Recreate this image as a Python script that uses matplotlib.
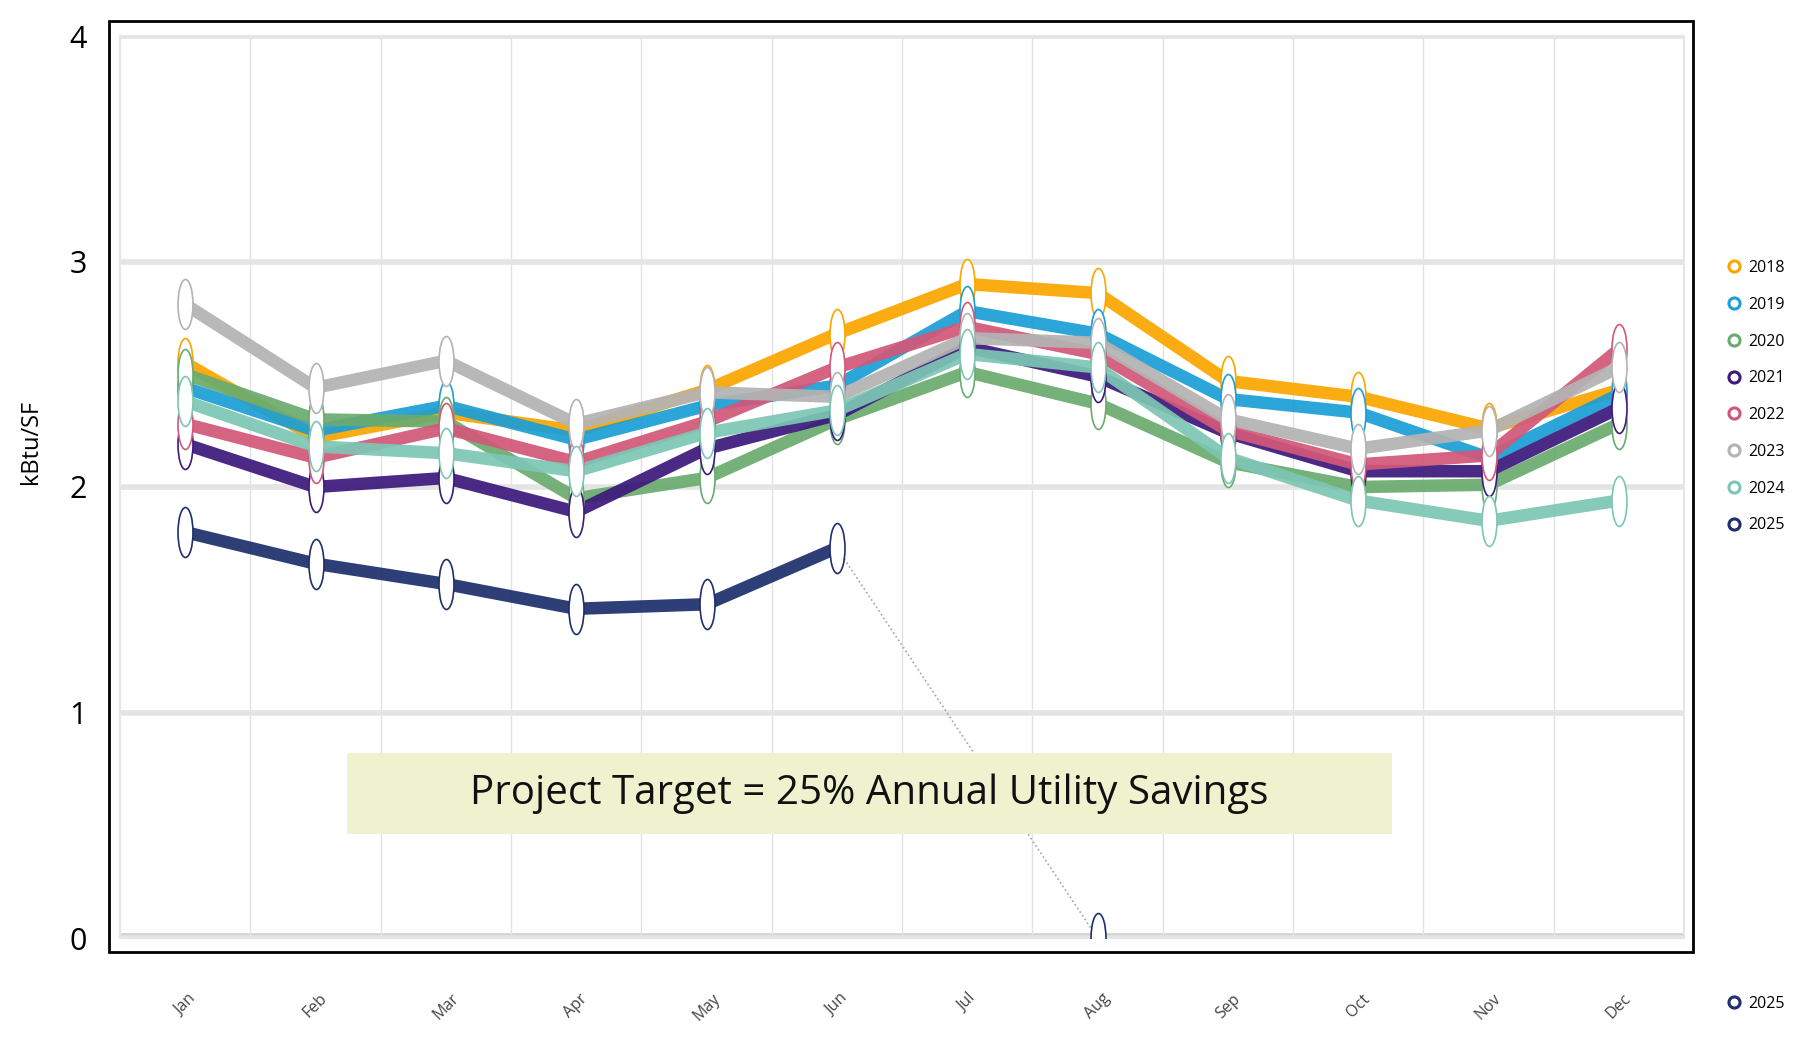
import numpy as np
import matplotlib
matplotlib.use("Agg")
import matplotlib.pyplot as plt
from matplotlib.path import Path
from matplotlib.transforms import Affine2D
from matplotlib.lines import Line2D
from matplotlib.patches import Rectangle

plt.rcParams['font.family'] = ['Open Sans', 'DejaVu Sans']

months = ['Jan', 'Feb', 'Mar', 'Apr', 'May', 'Jun', 'Jul', 'Aug', 'Sep', 'Oct', 'Nov', 'Dec']
years = ['2018', '2019', '2020', '2021', '2022', '2023', '2024', '2025']
colors = ['#FBA600', '#1C9ED6', '#6AAB6F', '#3D1A7C', '#D2587A', '#B3B3B3', '#7DC6B4', '#1E2F6C']

y2018 = [2.55, 2.22, 2.33, 2.25, 2.43, 2.68, 2.90, 2.86, 2.47, 2.40, 2.26, 2.43]
y2019 = [2.44, 2.25, 2.36, 2.21, 2.36, 2.45, 2.78, 2.68, 2.39, 2.33, 2.13, 2.41]
y2020 = [2.50, 2.30, 2.29, 1.95, 2.04, 2.30, 2.51, 2.37, 2.11, 2.00, 2.01, 2.28]
y2021 = [2.19, 2.00, 2.04, 1.89, 2.17, 2.32, 2.62, 2.49, 2.24, 2.07, 2.07, 2.35]
y2022 = [2.28, 2.13, 2.26, 2.11, 2.29, 2.53, 2.71, 2.59, 2.25, 2.10, 2.14, 2.61]
y2023 = [2.81, 2.44, 2.56, 2.28, 2.42, 2.40, 2.66, 2.64, 2.30, 2.17, 2.25, 2.53]
y2024 = [2.38, 2.18, 2.15, 2.07, 2.24, 2.34, 2.59, 2.53, 2.13, 1.94, 1.85, 1.94]
y2025 = [1.80, 1.66, 1.57, 1.46, 1.48, 1.73, np.nan, 0.0, np.nan, np.nan, np.nan, np.nan]
series = [y2018, y2019, y2020, y2021, y2022, y2023, y2024, y2025]

target_text = 'Project Target = 25% Annual Utility Savings'

# tall thin ellipse marker
circ = Path.unit_circle()
ell = Path(Affine2D().scale(0.3, 1.0).transform(circ.vertices), circ.codes)

W, H = 1794, 1037
fig = plt.figure(figsize=(W / 100, H / 100), dpi=100)
ax = fig.add_axes([120 / W, 1 - 938 / H, 1564 / W, 902 / H])

x = np.arange(len(months))
for yr, col, vals in zip(years, colors, series):
    v = np.array(vals, dtype=float)
    ax.plot(x, v, color=col, lw=9, solid_capstyle='butt', alpha=0.93, zorder=3)
    ax.plot(x, v, ls='none', marker=ell, markersize=36, markerfacecolor='white',
            markeredgecolor=col, markeredgewidth=1.2, zorder=4)

# 2025 gap segment (Jun -> Aug) drawn thin and faint
v25 = np.array(y2025, dtype=float)
ok = ~np.isnan(v25)
ax.plot(x[ok][-2:], v25[ok][-2:], color='#9aa3c0', lw=1.2, ls=':', zorder=2)

ax.set_xlim(-0.5, 11.5)
ax.set_ylim(0, 4)
ax.set_yticks([0, 1, 2, 3, 4])
ax.set_yticklabels(['0', '1', '2', '3', '4'], fontsize=22)
ax.set_xticks(x)
ax.set_xticklabels(months, rotation=45, fontsize=11.5, color='#444444')
ax.set_xticks(np.arange(0.5, 11, 1), minor=True)
ax.tick_params(axis='both', which='both', length=0)
ax.tick_params(axis='y', pad=24)
ax.tick_params(axis='x', pad=38)
ax.grid(True, which='minor', axis='x', color='#e2e2e2', lw=1)
ax.grid(True, which='major', axis='y', color='#e4e4e4', lw=4)
ax.axhline(0, color='#d2d2d2', lw=7, zorder=1)
for s in ax.spines.values():
    s.set_color('#e6e6e6')
    s.set_linewidth(1.5)
ax.set_ylabel('kBtu/SF', fontsize=17)
ax.yaxis.set_label_coords(-0.049, 0.55)

# target box
ax.add_patch(Rectangle((0.145, 0.115), 0.668, 0.09, transform=ax.transAxes,
                       facecolor='#EEF2CF', edgecolor='none', zorder=5))
ax.text(0.479, 0.16, target_text, transform=ax.transAxes, ha='center', va='center',
        fontsize=29, color='#111111', zorder=6)

# outer black frame
fig.add_artist(Rectangle((109 / W, 1 - 952 / H), 1584 / W, 931 / H, transform=fig.transFigure,
                         fill=False, edgecolor='black', lw=2))

handles = [Line2D([], [], ls='none', marker='o', markersize=8, markerfacecolor='white',
                  markeredgecolor=c, markeredgewidth=2.2) for c in colors]
fig.legend(handles, years, loc='upper left', bbox_to_anchor=(1718 / W, 1 - 252 / H),
           frameon=False, fontsize=11.5, labelspacing=1.3, handlelength=1.0,
           handletextpad=0.4, borderpad=0)
fig.legend(handles[-1:], years[-1:], loc='upper left', bbox_to_anchor=(1718 / W, 1 - 988 / H),
           frameon=False, fontsize=11.5, handlelength=1.0, handletextpad=0.4, borderpad=0)

fig.savefig('out.png', dpi=100)
